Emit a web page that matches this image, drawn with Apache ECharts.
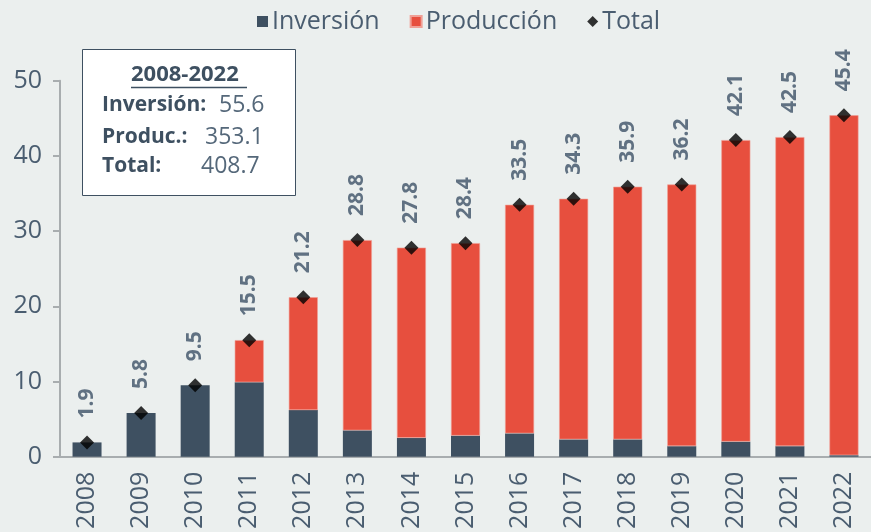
<!DOCTYPE html>
<html>
<head>
<meta charset="utf-8">
<script src="https://cdn.jsdelivr.net/npm/echarts@6/dist/echarts.min.js"></script>
<style>
  html, body { margin: 0; padding: 0; background: #EBEFEE; }
  #main { width: 871px; height: 532px; }
</style>
</head>
<body>
<div id="main"></div>
<script>
var years = ['2008','2009','2010','2011','2012','2013','2014','2015','2016','2017','2018','2019','2020','2021','2022'];
var inversion = [1.9, 5.8, 9.5, 9.9, 6.2, 3.5, 2.5, 2.8, 3.1, 2.3, 2.3, 1.4, 2.0, 1.4, 0.2];
// no production bar before 2011
var produccion = [null, null, null, 5.6, 15.0, 25.3, 25.3, 25.6, 30.4, 32.0, 33.6, 34.8, 40.1, 41.1, 45.2];
var total = [1.9, 5.8, 9.5, 15.5, 21.2, 28.8, 27.8, 28.4, 33.5, 34.3, 35.9, 36.2, 42.1, 42.5, 45.4];
var yTicks = [0, 10, 20, 30, 40, 50];

var font = 'Open Sans';
var txt = '#4A5D70';
var dark = '#3E5061';

var ch = echarts.init(document.getElementById('main'));
var op = {
  backgroundColor: '#EBEFEE',
  animation: false,
  textStyle: { fontFamily: font },
  legend: {
    left: 252,
    top: 4,
    itemWidth: 11,
    itemHeight: 11,
    itemGap: 30,
    textStyle: { fontSize: 25, color: txt, fontFamily: font, padding: [0, 0, 0, -1] },
    data: [
      { name: 'Inversión', icon: 'rect' },
      { name: 'Producción', icon: 'rect' },
      { name: 'Total', icon: 'diamond' }
    ]
  },
  grid: {
    left: 60,
    right: -6,
    top: 80.7,
    bottom: 75.3
  },
  xAxis: {
    type: 'category',
    data: years,
    axisLine: { lineStyle: { color: '#A8ADAF', width: 2 } },
    axisTick: { length: 6, lineStyle: { color: '#A8ADAF', width: 2 } },
    axisLabel: { rotate: 90, fontSize: 25, color: txt, margin: 15, interval: 0 }
  },
  yAxis: {
    type: 'value',
    min: yTicks[0],
    max: yTicks[yTicks.length - 1],
    interval: 10,
    axisLine: { show: true, lineStyle: { color: '#A8ADAF', width: 2 } },
    axisTick: { show: true, length: 7, lineStyle: { color: '#A8ADAF', width: 2 } },
    splitLine: { show: false },
    axisLabel: { fontSize: 25, color: txt, margin: 18 }
  },
  series: [
    {
      name: 'Inversión',
      type: 'bar',
      stack: 'a',
      barWidth: 29,
      data: inversion,
      itemStyle: { color: dark }
    },
    {
      name: 'Producción',
      type: 'bar',
      stack: 'a',
      data: produccion,
      itemStyle: { color: '#E74F3E', borderColor: '#F0A096', borderWidth: 0.6 }
    },
    {
      name: 'Total',
      type: 'scatter',
      symbol: 'diamond',
      symbolSize: 14,
      data: total,
      itemStyle: { color: '#000' },
      label: {
        show: true,
        position: 'top',
        distance: 17,
        rotate: 90,
        align: 'left',
        verticalAlign: 'middle',
        fontSize: 21,
        fontWeight: 'bold',
        color: '#3D5166',
        formatter: function (p) { return p.value.toFixed(1); }
      },
      z: 5
    }
  ],
  graphic: [
    {
      type: 'rect',
      shape: { x: 82.5, y: 49.5, width: 213, height: 146 },
      style: { fill: '#fff', stroke: '#3E5061', lineWidth: 1 },
      z: 10
    },
    {
      type: 'text', x: 131, y: 75, z: 11,
      style: { text: '2008-2022', font: 'bold 22px "Open Sans"', fill: '#3E5061', verticalAlign: 'middle' }
    },
    {
      type: 'line', z: 11,
      shape: { x1: 131, y1: 87.5, x2: 247, y2: 87.5 },
      style: { stroke: '#3E5061', lineWidth: 1.5 }
    },
    {
      type: 'text', x: 102, y: 105, z: 11,
      style: { text: 'Inversión:', font: 'bold 21px "Open Sans"', fill: '#3E5061', verticalAlign: 'middle' }
    },
    {
      type: 'text', x: 219, y: 105, z: 11,
      style: { text: '55.6', font: '23px "Open Sans"', fill: '#55687A', verticalAlign: 'middle' }
    },
    {
      type: 'text', x: 102, y: 137, z: 11,
      style: { text: 'Produc.:', font: 'bold 21px "Open Sans"', fill: '#3E5061', verticalAlign: 'middle' }
    },
    {
      type: 'text', x: 205, y: 137, z: 11,
      style: { text: '353.1', font: '23px "Open Sans"', fill: '#55687A', verticalAlign: 'middle' }
    },
    {
      type: 'text', x: 102, y: 166, z: 11,
      style: { text: 'Total:', font: 'bold 21px "Open Sans"', fill: '#3E5061', verticalAlign: 'middle' }
    },
    {
      type: 'text', x: 201, y: 166, z: 11,
      style: { text: '408.7', font: '23px "Open Sans"', fill: '#55687A', verticalAlign: 'middle' }
    }
  ]
};
ch.setOption(op);
</script>
</body>
</html>
